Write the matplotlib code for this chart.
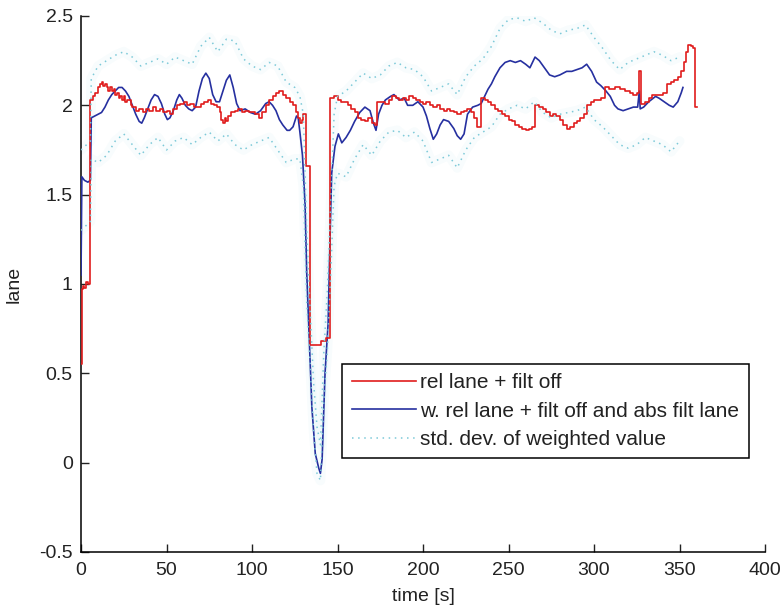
import matplotlib
matplotlib.use("Agg")
import matplotlib.pyplot as plt

# relative lane with filter offset (stepwise signal)
red_t = [0, 0.3, 1, 2, 3, 4, 5, 5.5, 7, 8, 10, 11, 12, 13, 14, 15, 16, 17, 18, 19,
         20, 21, 22, 23, 24, 25, 26, 27, 29, 30, 32, 34, 36, 38, 40, 42, 44, 46, 48, 50,
         52, 54, 56, 58, 60, 62, 64, 66, 68, 70, 72, 74, 76, 78, 79.5, 81, 82, 83, 84, 85,
         86, 88, 90, 92, 94, 96, 98, 100, 102, 104, 106, 108, 110, 112, 114, 116, 118, 120, 122, 124,
         126, 127, 128, 129, 130, 131.5, 134, 137, 140.5, 143.5, 145.5, 148, 150, 152, 154, 156, 158, 160, 162, 164,
         166, 168, 170, 172, 173, 176, 178, 180, 182, 184, 186, 188, 190, 192, 194, 196, 198, 200, 202, 204,
         206, 208, 210, 212, 214, 216, 218, 220, 222, 224, 226, 228, 230, 231.5, 234, 236, 238, 240, 242, 244,
         246, 248, 250, 252, 254, 256, 258, 260, 262, 264, 265.5, 268, 270, 272, 274, 276, 278, 280, 282, 284,
         286, 288, 290, 292, 294, 295.7, 298, 300, 302, 304, 306.4, 309, 312, 315, 318, 321, 323, 325, 326.4, 327.2,
         330, 332, 334, 337, 340.5, 342.6, 345, 347, 349, 351, 352.5, 354, 355, 356.5, 358, 359, 360]
red_v = [0.55, 0.97, 0.99, 0.98, 1.01, 1.00, 1.03, 2.03, 2.05, 2.07, 2.10, 2.12, 2.13, 2.11, 2.12, 2.10, 2.08, 2.10, 2.08, 2.09,
         2.06, 2.07, 2.04, 2.05, 2.03, 2.05, 2.02, 2.03, 2.00, 1.99, 1.97, 1.98, 1.96, 1.98, 1.97, 1.99, 1.97, 1.98, 1.96, 1.97,
         1.95, 1.98, 2.00, 2.01, 2.02, 2.00, 2.01, 1.99, 1.99, 2.01, 2.02, 2.03, 2.01, 2.00, 1.99, 1.96, 1.92, 1.90, 1.93, 1.91,
         1.94, 1.96, 1.97, 1.98, 1.96, 1.97, 1.96, 1.96, 1.95, 1.93, 1.96, 2.00, 2.03, 2.05, 2.07, 2.08, 2.06, 2.04, 2.02, 2.00,
         1.96, 1.93, 1.90, 1.92, 1.95, 1.66, 0.66, 0.66, 0.68, 0.70, 2.04, 2.05, 2.03, 2.02, 2.02, 2.00, 1.98, 1.96, 1.93, 1.92,
         1.91, 1.93, 1.90, 1.89, 2.02, 2.02, 2.01, 2.03, 2.05, 2.04, 2.03, 2.04, 2.03, 2.05, 2.04, 2.03, 2.02, 2.01, 2.02, 2.00,
         1.99, 2.00, 1.98, 1.97, 1.98, 1.97, 1.96, 1.95, 1.96, 1.97, 1.98, 1.96, 1.93, 1.88, 2.04, 2.03, 2.02, 2.00, 1.98, 1.97,
         1.95, 1.94, 1.92, 1.91, 1.89, 1.88, 1.87, 1.86, 1.87, 1.88, 2.00, 1.99, 1.98, 1.96, 1.94, 1.95, 1.94, 1.92, 1.89, 1.87,
         1.88, 1.90, 1.91, 1.93, 1.95, 2.00, 2.02, 2.03, 2.03, 2.04, 2.10, 2.09, 2.10, 2.09, 2.08, 2.07, 2.06, 2.07, 2.19, 2.01,
         2.02, 2.04, 2.06, 2.06, 2.07, 2.12, 2.13, 2.14, 2.16, 2.19, 2.24, 2.30, 2.34, 2.33, 2.32, 1.99, 1.99]

# weighted relative lane + filter offset and absolute filtered lane
blue_t = [0, 0.5, 2, 4, 5.5, 6, 8, 10, 12, 14, 16, 18, 20, 22, 24, 26, 28, 30, 32, 34,
          35.5, 37, 39, 41, 43, 45, 47, 49, 50.5, 52, 54, 56, 57.5, 59, 61, 63, 65, 67, 69, 71,
          73, 75, 77, 79, 81, 83, 85, 87, 89, 91, 93, 96, 99, 102, 105, 108, 110, 112, 114, 116,
          118, 120.5, 122, 124, 126, 127, 128, 129.5, 131, 132, 133.5, 135, 137, 139, 140, 141, 142.7, 144.5, 145.6, 146.6,
          148.5, 150.5, 152.5, 155, 157.5, 160, 163, 166, 169, 171, 172.5, 174, 176, 178, 181, 183, 186, 189, 191, 194,
          197, 200, 202, 204, 206, 208, 210, 212, 215, 218, 220, 222, 224, 226, 229, 232, 234, 236, 238, 240,
          242, 245, 248, 251, 254, 257, 260, 262.5, 265.5, 268, 271, 274, 277, 280, 284, 287, 290, 293, 295.7, 298.6,
          301.5, 304, 307, 309.5, 312, 314, 317, 320, 323, 325.5, 326.5, 327, 329, 332, 336, 338, 341, 344, 346.3, 349,
          351, 352]
blue_v = [1.05, 1.60, 1.58, 1.57, 1.58, 1.93, 1.94, 1.95, 1.96, 1.99, 2.03, 2.06, 2.08, 2.10, 2.10, 2.08, 2.05, 2.00, 1.95, 1.91,
          1.90, 1.93, 1.98, 2.03, 2.06, 2.05, 2.01, 1.95, 1.92, 1.93, 1.97, 2.03, 2.06, 2.04, 2.00, 1.98, 1.97, 1.99, 2.08, 2.15,
          2.18, 2.15, 2.06, 2.02, 2.02, 2.08, 2.14, 2.17, 2.10, 2.01, 1.97, 1.98, 1.96, 1.95, 1.97, 2.01, 2.02, 2.00, 1.97, 1.92,
          1.89, 1.86, 1.86, 1.88, 1.94, 1.93, 1.85, 1.72, 1.45, 1.06, 0.69, 0.31, 0.05, -0.03, -0.06, 0.02, 0.50, 0.78, 1.25, 1.62,
          1.77, 1.84, 1.79, 1.82, 1.86, 1.91, 1.96, 1.99, 1.97, 1.90, 1.86, 1.95, 2.00, 2.03, 2.05, 2.06, 2.03, 2.04, 2.00, 2.00,
          2.02, 1.99, 1.94, 1.87, 1.81, 1.84, 1.89, 1.92, 1.91, 1.87, 1.83, 1.81, 1.84, 1.95, 1.99, 2.00, 2.01, 2.05, 2.09, 2.12,
          2.16, 2.21, 2.24, 2.25, 2.24, 2.25, 2.23, 2.21, 2.27, 2.25, 2.21, 2.17, 2.16, 2.17, 2.19, 2.19, 2.20, 2.21, 2.23, 2.19,
          2.13, 2.11, 2.08, 2.05, 2.00, 1.98, 1.97, 1.98, 1.99, 1.99, 2.08, 1.98, 1.99, 2.02, 2.05, 2.04, 2.02, 2.00, 1.99, 2.02,
          2.07, 2.10]

# standard deviation band of the weighted value (upper / lower bound)
std_t = [0, 5.5, 6, 10, 15, 20, 25, 30, 35, 40, 45, 50, 55, 60, 65, 70, 75, 80, 85, 90,
         95, 100, 105, 110, 115, 120, 125, 128, 130, 132, 134, 136, 138, 140, 142, 144, 146, 148, 150, 155,
         160, 165, 170, 175, 180, 185, 190, 195, 200, 205, 210, 215, 220, 225, 230, 235, 240, 245, 250, 255,
         260, 265, 270, 275, 280, 285, 290, 295, 300, 305, 310, 315, 320, 325, 330, 335, 340, 345, 350]
std_upper = [1.75, 1.80, 2.15, 2.22, 2.25, 2.28, 2.30, 2.27, 2.22, 2.24, 2.26, 2.23, 2.27, 2.25, 2.23, 2.33, 2.38, 2.30, 2.37, 2.36,
             2.26, 2.22, 2.20, 2.24, 2.22, 2.13, 2.10, 2.05, 1.95, 1.30, 0.85, 0.45, 0.20, 0.10, 0.62, 0.95, 1.45, 1.95, 2.05, 2.08,
             2.13, 2.18, 2.15, 2.17, 2.22, 2.24, 2.21, 2.20, 2.16, 2.08, 2.10, 2.12, 2.06, 2.16, 2.22, 2.26, 2.33, 2.43, 2.48, 2.49,
             2.47, 2.49, 2.46, 2.42, 2.40, 2.42, 2.43, 2.45, 2.38, 2.32, 2.25, 2.20, 2.24, 2.26, 2.28, 2.30, 2.28, 2.25, 2.27]
std_lower = [1.30, 1.35, 1.70, 1.68, 1.72, 1.80, 1.84, 1.78, 1.72, 1.78, 1.82, 1.75, 1.80, 1.82, 1.78, 1.82, 1.85, 1.80, 1.84, 1.78,
             1.75, 1.78, 1.80, 1.82, 1.75, 1.68, 1.70, 1.70, 1.55, 0.90, 0.55, 0.18, -0.06, -0.10, 0.35, 0.62, 1.05, 1.55, 1.62, 1.60,
             1.70, 1.78, 1.72, 1.80, 1.85, 1.86, 1.82, 1.85, 1.80, 1.68, 1.70, 1.72, 1.65, 1.75, 1.82, 1.85, 1.88, 1.95, 1.98, 2.00,
             1.98, 2.02, 1.96, 1.93, 1.95, 1.96, 1.97, 1.99, 1.92, 1.88, 1.83, 1.78, 1.76, 1.78, 1.82, 1.80, 1.78, 1.74, 1.80]

xticks = [0, 50, 100, 150, 200, 250, 300, 350, 400]
yticks = [-0.5, 0, 0.5, 1, 1.5, 2, 2.5]
ytick_labels = ['-0.5', '0', '0.5', '1', '1.5', '2', '2.5']

plt.rcParams['font.family'] = ['Liberation Sans', 'DejaVu Sans']

red = '#e01c1c'
blue = '#2630a0'
cyan = '#7cc9d8'

fig = plt.figure(figsize=(7.82, 6.1), dpi=100)
ax = fig.add_axes([0.1036, 0.0951, 0.8747, 0.8787])

ax.plot(red_t, red_v, color=red, lw=1.2, drawstyle='steps-post', zorder=4,
        label='rel lane + filt off')
ax.plot(blue_t, blue_v, color=blue, lw=1.2, zorder=3,
        label='w. rel lane + filt off and abs filt lane')

# faint haze around the dotted std lines
for band in (std_upper, std_lower):
    ax.plot(std_t, band, color=cyan, lw=7, alpha=0.05, zorder=1, solid_capstyle='round')
ax.plot(std_t, std_upper, color=cyan, lw=1.1, linestyle=(0, (1, 3)), zorder=5,
        label='std. dev. of weighted value')
ax.plot(std_t, std_lower, color=cyan, lw=1.1, linestyle=(0, (1, 3)), zorder=5)

ax.set_xlim(0, 400)
ax.set_ylim(-0.5, 2.5)
ax.set_xticks(xticks)
ax.set_yticks(yticks)
ax.set_yticklabels(ytick_labels)
ax.tick_params(direction='in', length=6, width=1, labelsize=14, color='#222222', labelcolor='#222222')
ax.tick_params(axis='x', pad=7)
ax.tick_params(axis='y', pad=6)
ax.spines['top'].set_visible(False)
ax.spines['right'].set_visible(False)
for s in ('left', 'bottom'):
    ax.spines[s].set_linewidth(1.1)

ax.set_xlabel('time [s]', fontsize=14, labelpad=7, color='#222222')
ax.set_ylabel('lane', fontsize=14, labelpad=12, color='#222222')

leg = ax.legend(loc='upper left', bbox_to_anchor=(0.382, 0.351), fontsize=15,
                frameon=True, fancybox=False, framealpha=1, edgecolor='black',
                handlelength=3.1, labelspacing=0.45, borderpad=0.45, handletextpad=0.2,
                borderaxespad=0)
leg.get_frame().set_linewidth(1.1)
for txt in leg.get_texts():
    txt.set_color('#222222')

fig.savefig('out.png', dpi=100)
